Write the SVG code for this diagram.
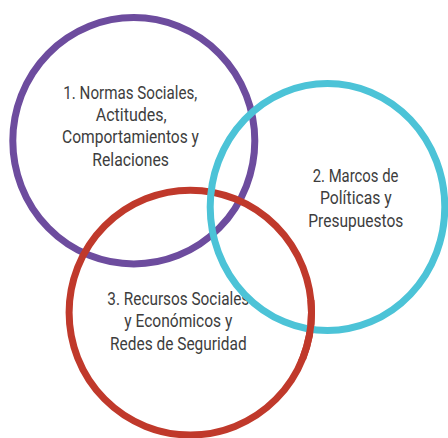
<svg xmlns="http://www.w3.org/2000/svg" width="448" height="438" viewBox="0 0 448 438">
  <defs>
    <style>
      .ring { fill: none; stroke-width: 7; }
      .purple { stroke: #6D4C9E; }
      .cyan { stroke: #4CC3D7; }
      .red { stroke: #C0392B; }
      .lbl { font-family: Roboto, "Liberation Sans", sans-serif; font-size: 18.5px; fill: #3d3d3d; }
    </style>
    <clipPath id="redTop">
      <rect x="292" y="300" width="34" height="60"/>
    </clipPath>
  </defs>
  <rect width="448" height="438" fill="#ffffff"/>
  <g id="node1">
    <ellipse class="ring purple" cx="133.8" cy="140.8" rx="121" ry="123.2"/>
    <text class="lbl" x="63.3" y="98.5" textLength="134" lengthAdjust="spacingAndGlyphs">1. Normas Sociales,</text>
    <text class="lbl" x="95.7" y="120.8" textLength="71" lengthAdjust="spacingAndGlyphs">Actitudes,</text>
    <text class="lbl" x="62" y="143.3" textLength="137" lengthAdjust="spacingAndGlyphs">Comportamientos y</text>
    <text class="lbl" x="92.3" y="165.7" textLength="76.7" lengthAdjust="spacingAndGlyphs">Relaciones</text>
  </g>
  <g id="node3">
    <ellipse class="ring red" cx="190.3" cy="312.6" rx="121.2" ry="122.4"/>
    <text class="lbl" x="107.3" y="305" textLength="142" lengthAdjust="spacingAndGlyphs">3. Recursos Sociales</text>
    <text class="lbl" x="124.3" y="327.3" textLength="108" lengthAdjust="spacingAndGlyphs">y Económicos y</text>
    <text class="lbl" x="110" y="350" textLength="136.7" lengthAdjust="spacingAndGlyphs">Redes de Seguridad</text>
  </g>
  <g id="node2">
    <ellipse class="ring cyan" cx="327.5" cy="207" rx="117.3" ry="123.5"/>
    <text class="lbl" x="312.7" y="181.7" textLength="85.7" lengthAdjust="spacingAndGlyphs">2. Marcos de</text>
    <text class="lbl" x="320" y="204.3" textLength="71.7" lengthAdjust="spacingAndGlyphs">Políticas y</text>
    <text class="lbl" x="308.3" y="227" textLength="95" lengthAdjust="spacingAndGlyphs">Presupuestos</text>
  </g>
  <g id="connectors">
    <ellipse class="ring red" cx="190.3" cy="312.6" rx="121.2" ry="122.4" clip-path="url(#redTop)"/>
  </g>
</svg>
